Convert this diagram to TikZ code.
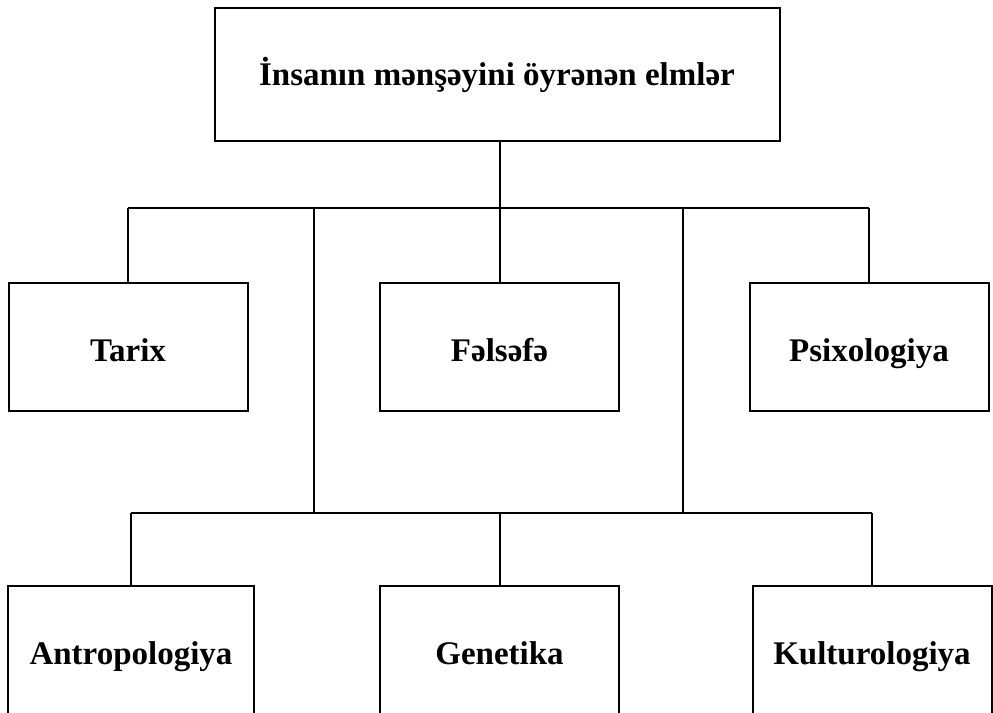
\documentclass[tikz,border=0pt]{standalone}
\usepackage{fontspec}
\setmainfont{Liberation Serif}
\usetikzlibrary{positioning}

\begin{document}
\begin{tikzpicture}[
  x=0.5pt, y=-0.5pt,
  font=\fontsize{16.5}{20}\selectfont\bfseries,
  box/.style={draw, line width=1pt, minimum width=119.5pt, minimum height=64pt,
    inner sep=0pt, text height=15pt, text depth=1pt},
  link/.style={line width=1pt}
]
\useasboundingbox (0,0) rectangle (993,713);
\clip (0,0) rectangle (993,713);
% --- ust blok ---
\node[box, minimum width=282.5pt, minimum height=66.5pt, text height=13pt, text depth=1.5pt] (top) at (497,74) {İnsanın mənşəyini öyrənən elmlər};
% --- orta sira ---
\node[box] (tarix) at (128,347) {Tarix};
\node[box] (felsefe) at (499.5,347) {Fəlsəfə};
\node[box] (psix) at (869,347) {Psixologiya};
% --- alt sira (kesilmis) ---
\node[box, minimum width=123pt] (antrop) at (131,650) {Antropologiya};
\node[box] (genetika) at (499.5,650) {Genetika};
\node[box] (kultur) at (872,650) {Kulturologiya};
% --- xetler ---
\coordinate (upbus) at (500,208);
\coordinate (lowbus) at (500,513);
\coordinate (lt) at (314,208);
\coordinate (rt) at (683,208);
\draw[link] (upbus |- top.south) -- (upbus);
\draw[link] (tarix.north |- upbus) -- (psix.north |- upbus);
\foreach \n in {tarix, felsefe, psix}
  \draw[link] (\n.north |- upbus) -- (\n.north);
\draw[link] (lt) -- (lt |- lowbus);
\draw[link] (rt) -- (rt |- lowbus);
\draw[link] (antrop.north |- lowbus) -- (kultur.north |- lowbus);
\foreach \n in {antrop, genetika, kultur}
  \draw[link] (\n.north |- lowbus) -- (\n.north);
\end{tikzpicture}
\end{document}
